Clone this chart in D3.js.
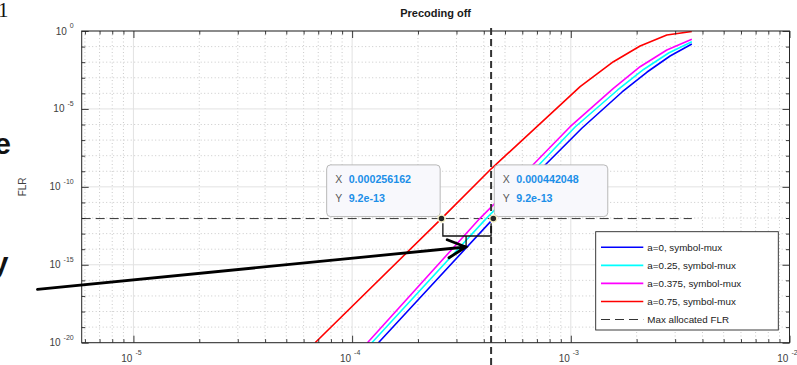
<!DOCTYPE html>
<html>
<head>
<meta charset="utf-8">
<script src="https://cdn.jsdelivr.net/npm/d3@7"></script>
<style>
  body { margin: 0; background: #fff; }
  svg { display: block; font-family: "Liberation Sans", Arial, Helvetica, sans-serif; }
</style>
</head>
<body>
<svg id="chart" width="797" height="365"></svg>
<script>
// FLR vs raw error rate, precoding off

const seriesNames = ["a=0, symbol-mux", "a=0.25, symbol-mux", "a=0.375, symbol-mux", "a=0.75, symbol-mux"];

// values (x = raw error rate, y = FLR)
const errA0 = [1.319e-4, 4.42048e-4, 7.49e-4, 1.126e-3, 1.716e-3, 2.233e-3, 2.844e-3, 3.576e-3];
const flrA0 = [1e-20, 9.2e-13, 1.96e-9, 5.97e-7, 1.22e-4, 2.34e-3, 2.49e-2, 0.147];

const errA025 = [1.231e-4, 4.10e-4, 7.05e-4, 1.046e-3, 1.637e-3, 2.152e-3, 2.801e-3, 3.576e-3];
const flrA025 = [1e-20, 9.2e-13, 2.08e-9, 6.92e-7, 1.64e-4, 3.39e-3, 3.88e-2, 0.206];

const errA0375 = [1.175e-4, 3.833e-4, 6.634e-4, 9.93e-4, 1.566e-3, 2.074e-3, 2.748e-3, 3.576e-3];
const flrA0375 = [1e-20, 9.2e-13, 2.18e-9, 7.23e-7, 2.10e-4, 5.12e-3, 6.04e-2, 0.293];

const errA075 = [6.77e-5, 2.56162e-4, 4.35e-4, 1.103e-3, 1.566e-3, 2.074e-3, 2.748e-3, 3.576e-3];
const flrA075 = [1e-20, 9.2e-13, 1.55e-9, 2.67e-4, 1.07e-2, 0.109, 0.554, 0.93];

const maxAllocatedFLR = 9.2e-13;
const maxFLRSpan = [5.8e-6, 3.576e-3];

// data tips
const tipX = [0.000256162, 0.000442048];
const tipY = [9.2e-13, 9.2e-13];
const tipXText = ["0.000256162", "0.000442048"];
const tipYText = ["9.2e-13", "9.2e-13"];

// annotations drawn on top of the plot
const markerX = 4.32e-4;
const braceX = [2.6e-4, 3.32e-4, 4.32e-4];
const braceY = [4.6e-13, 7e-14, 1.2e-14];
const arrowX = [3.64e-6, 3.31e-4];
const arrowY = [2.67e-17, 1.38e-14];

// axis ticks
const xDomain = [5.8e-6, 1e-2];
const yDomain = [1e-20, 1];
const xLabelExp = [-5, -4, -3, -2];
const yLabelExp = [0, -5, -10, -15, -20];

const colors = ["#0000ff", "#00ffff", "#ff00ff", "#ff0000"];
const axisColor = "#262626";

const margin = { left: 81.7, top: 31, right: 7.5, bottom: 22.3 };
const width = 797, height = 365;

const x = d3.scaleLog().domain(xDomain).range([margin.left, width - margin.right]);
const y = d3.scaleLog().domain(yDomain).range([height - margin.bottom, margin.top]);

const svg = d3.select("#chart");
const x0 = x.range()[0], x1 = x.range()[1];
const yb = y.range()[0], yt = y.range()[1];

svg.append("defs").append("clipPath").attr("id", "plotclip")
  .append("rect").attr("x", x0).attr("y", yt).attr("width", x1 - x0).attr("height", yb - yt);

// tick positions
const xAll = x.ticks().filter(v => v >= xDomain[0] && v <= xDomain[1]);
const xMajor = xLabelExp.map(e => Math.pow(10, e));
const xMinor = xAll.filter(v => !xMajor.some(m => Math.abs(v / m - 1) < 1e-6));
const yDecades = d3.range(-20, 1).map(e => Math.pow(10, e));
const yMajor = yLabelExp.map(e => Math.pow(10, e));
const yMinor = yDecades.filter(v => !yMajor.some(m => Math.abs(Math.log10(v) - Math.log10(m)) < 1e-6));

// grid
const grid = svg.append("g");
grid.selectAll(".xminor").data(xMinor).enter().append("line")
  .attr("x1", d => x(d)).attr("x2", d => x(d)).attr("y1", yt).attr("y2", yb)
  .attr("stroke", "#bdbdbd").attr("stroke-width", 0.8).attr("stroke-dasharray", "1,2.5");
grid.selectAll(".yminor").data(yMinor).enter().append("line")
  .attr("x1", x0).attr("x2", x1).attr("y1", d => y(d)).attr("y2", d => y(d))
  .attr("stroke", "#bdbdbd").attr("stroke-width", 0.8).attr("stroke-dasharray", "1,2.5");
grid.selectAll(".xmajor").data(xMajor).enter().append("line")
  .attr("x1", d => x(d)).attr("x2", d => x(d)).attr("y1", yt).attr("y2", yb)
  .attr("stroke", "#e2e2e2").attr("stroke-width", 1);
grid.selectAll(".ymajor").data(yMajor).enter().append("line")
  .attr("x1", x0).attr("x2", x1).attr("y1", d => y(d)).attr("y2", d => y(d))
  .attr("stroke", "#e2e2e2").attr("stroke-width", 1);

// curves
const plot = svg.append("g").attr("clip-path", "url(#plotclip)");
const series = [
  { name: seriesNames[0], xs: errA0, ys: flrA0 },
  { name: seriesNames[1], xs: errA025, ys: flrA025 },
  { name: seriesNames[2], xs: errA0375, ys: flrA0375 },
  { name: seriesNames[3], xs: errA075, ys: flrA075 }
];
const line = d3.line().x(d => x(d[0])).y(d => y(d[1]));

plot.append("line")
  .attr("x1", x(maxFLRSpan[0])).attr("x2", x(maxFLRSpan[1]))
  .attr("y1", y(maxAllocatedFLR)).attr("y2", y(maxAllocatedFLR))
  .attr("stroke", "#333").attr("stroke-width", 1).attr("stroke-dasharray", "9,5");

series.forEach((s, i) => {
  plot.append("path")
    .attr("d", line(d3.zip(s.xs, s.ys)))
    .attr("fill", "none")
    .attr("stroke", colors[i])
    .attr("stroke-width", 1.6)
    .attr("stroke-linejoin", "round");
});

// box and ticks
const tickAxis = (fn, scale, values, len, tr) => {
  svg.append("g").attr("transform", tr)
    .call(fn(scale).tickValues(values).tickSizeInner(-len).tickSizeOuter(0).tickFormat(""))
    .call(g => g.select(".domain").remove())
    .call(g => g.selectAll("line").attr("stroke", axisColor).attr("stroke-width", 0.9));
};
tickAxis(d3.axisBottom, x, xMinor, 3.5, `translate(0,${yb})`);
tickAxis(d3.axisBottom, x, xMajor, 7, `translate(0,${yb})`);
tickAxis(d3.axisTop, x, xMinor, 3.5, `translate(0,${yt})`);
tickAxis(d3.axisTop, x, xMajor, 7, `translate(0,${yt})`);
tickAxis(d3.axisLeft, y, yMinor, 3.5, `translate(${x0},0)`);
tickAxis(d3.axisLeft, y, yMajor, 7, `translate(${x0},0)`);
tickAxis(d3.axisRight, y, yMinor, 3.5, `translate(${x1},0)`);
tickAxis(d3.axisRight, y, yMajor, 7, `translate(${x1},0)`);

svg.append("rect")
  .attr("x", x0).attr("y", yt).attr("width", x1 - x0).attr("height", yb - yt)
  .attr("fill", "none").attr("stroke", axisColor).attr("stroke-width", 1);

// tick labels
const ylab = svg.append("g").attr("fill", "#404040");
yLabelExp.forEach(e => {
  const t = ylab.append("text").attr("x", x0 - 8).attr("y", y(Math.pow(10, e)) + 3.5)
    .attr("text-anchor", "end").attr("font-size", 10);
  t.append("tspan").text("10");
  t.append("tspan").attr("dx", 3).attr("dy", -6.5).attr("font-size", 7).text(e);
});
const xlab = svg.append("g").attr("fill", "#404040");
xLabelExp.forEach(e => {
  const t = xlab.append("text").attr("x", x(Math.pow(10, e)) - 2).attr("y", yb + 19)
    .attr("text-anchor", "middle").attr("font-size", 10);
  t.append("tspan").text("10");
  t.append("tspan").attr("dx", 3).attr("dy", -7).attr("font-size", 7).text(e);
});

svg.append("text")
  .attr("transform", `translate(26,${(yt + yb) / 2}) rotate(-90)`)
  .attr("text-anchor", "middle").attr("font-size", 10).attr("fill", "#404040")
  .text("FLR");

svg.append("text")
  .attr("x", (x0 + x1) / 2).attr("y", 17)
  .attr("text-anchor", "middle").attr("font-size", 11).attr("font-weight", "bold")
  .attr("fill", "#1a1a1a")
  .text("Precoding off");

// vertical dashed marker
svg.append("line")
  .attr("x1", x(markerX)).attr("x2", x(markerX)).attr("y1", yt - 3).attr("y2", height)
  .attr("stroke", "#333").attr("stroke-width", 2).attr("stroke-dasharray", "7,4");

// brace under the two tips
const bp = d3.path();
bp.moveTo(x(braceX[0]), y(braceY[0]));
bp.lineTo(x(braceX[0]), y(braceY[1]));
bp.lineTo(x(braceX[2]), y(braceY[1]));
bp.lineTo(x(braceX[2]), y(braceY[0]));
bp.moveTo(x(braceX[1]), y(braceY[1]));
bp.lineTo(x(braceX[1]), y(braceY[2]));
svg.append("path").attr("d", bp.toString())
  .attr("fill", "none").attr("stroke", "#111").attr("stroke-width", 1.3);

// arrow
const ax0 = x(arrowX[0]), ay0 = y(arrowY[0]), ax1 = x(arrowX[1]), ay1 = y(arrowY[1]);
const ang = Math.atan2(ay1 - ay0, ax1 - ax0);
const headLen = 20, headAng = 27 * Math.PI / 180;
const ap = d3.path();
ap.moveTo(ax0, ay0);
ap.lineTo(ax1, ay1);
ap.moveTo(ax1 - headLen * Math.cos(ang - headAng), ay1 - headLen * Math.sin(ang - headAng));
ap.lineTo(ax1, ay1);
ap.lineTo(ax1 - headLen * Math.cos(ang + headAng), ay1 - headLen * Math.sin(ang + headAng));
svg.append("path").attr("d", ap.toString())
  .attr("fill", "none").attr("stroke", "#000").attr("stroke-width", 2.8)
  .attr("stroke-linecap", "round").attr("stroke-linejoin", "miter");

// data tips
const boxW = 113.5, boxH = 51.7;
tipX.forEach((tx, i) => {
  const px = x(tx), py = y(tipY[i]);
  const bx = i === 0 ? px - 1.3 - boxW : px + 1;
  const by = py - 2 - boxH;
  const g = svg.append("g");
  g.append("rect").attr("x", bx).attr("y", by).attr("width", boxW).attr("height", boxH)
    .attr("rx", 4).attr("fill", "#f8f8fc").attr("stroke", "#b8b8b8").attr("stroke-width", 1);
  [["X", tipXText[i], 18.3], ["Y", tipYText[i], 36.7]].forEach(r => {
    g.append("text").attr("x", bx + 8.5).attr("y", by + r[2])
      .attr("font-size", 10.5).attr("fill", "#5a5a5a").text(r[0]);
    g.append("text").attr("x", bx + 22).attr("y", by + r[2])
      .attr("font-size", 10.7).attr("font-weight", "bold").attr("fill", "#1c8fe8").text(r[1]);
  });
  svg.append("circle").attr("cx", px).attr("cy", py).attr("r", 3.4)
    .attr("fill", "#262626").attr("stroke", "#f3eec4").attr("stroke-width", 1.3);
});

// legend
const lg = svg.append("g");
lg.append("rect").attr("x", 595.7).attr("y", 231.7).attr("width", 182.6).attr("height", 98.3)
  .attr("fill", "#fff").attr("stroke", axisColor).attr("stroke-width", 0.9);
const legendItems = seriesNames.concat(["Max allocated FLR"]);
legendItems.forEach((name, i) => {
  const ly = 247.3 + i * 18.05;
  lg.append("line").attr("x1", 601).attr("x2", 643.3).attr("y1", ly).attr("y2", ly)
    .attr("stroke", i < 4 ? colors[i] : "#333")
    .attr("stroke-width", i < 4 ? 1.6 : 1)
    .attr("stroke-dasharray", i < 4 ? null : "9,5");
  lg.append("text").attr("x", 647.3).attr("y", ly + 3.4)
    .attr("font-size", 9.8).attr("fill", "#1a1a1a").text(name);
});

// cut-off slide text at the left edge
svg.append("text").attr("x", 8.5).attr("y", 17).attr("text-anchor", "end")
  .attr("font-family", "Liberation Serif, serif").attr("font-size", 21).attr("fill", "#111").text("1");
svg.append("text").attr("x", 11).attr("y", 154).attr("text-anchor", "end")
  .attr("font-size", 30).attr("font-weight", "bold").attr("fill", "#111").text("e");
svg.append("text").attr("x", 8.5).attr("y", 272.6).attr("text-anchor", "end")
  .attr("font-size", 30).attr("font-weight", "bold").attr("fill", "#111").text("y");
</script>
</body>
</html>
